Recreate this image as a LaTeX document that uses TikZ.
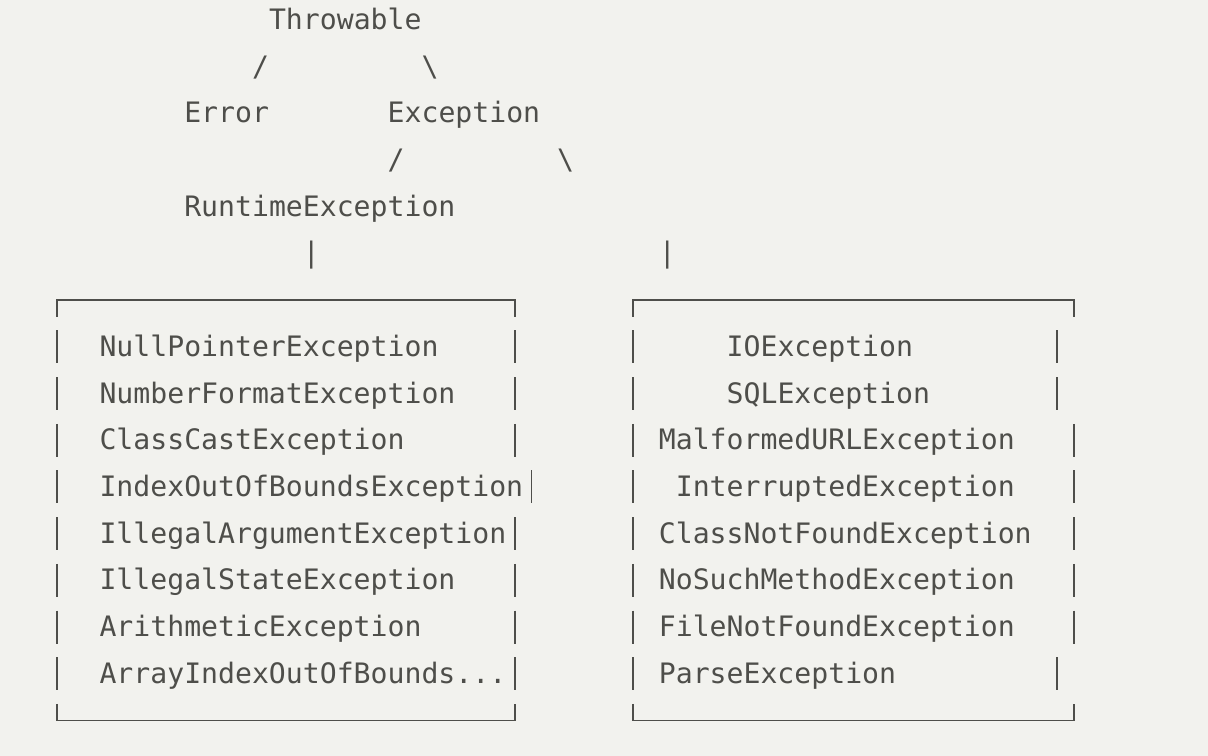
\documentclass[tikz,border=0pt]{standalone}
\usepackage{fontspec}
\newfontfamily\monofont{DejaVu Sans Mono}
\definecolor{paper}{RGB}{242,242,238}
\definecolor{ink}{RGB}{78,78,74}

\tikzset{
  word/.style={anchor=base west, inner sep=0pt, yshift=-9.5pt, text=ink,
    font=\monofont\fontsize{28.15}{34}\selectfont},
  rule/.style={draw=ink, line width=1.8pt},
}
% one short side stroke of a box, at column #1 and row #2
\newcommand{\sidebar}[2]{\draw[rule] (#1+0.5,#2-0.353) -- (#1+0.5,#2+0.353);}

\begin{document}
\begin{tikzpicture}[x=16.95pt, y=-46.7pt]
            \useasboundingbox[fill=paper] (-2.861,-0.428) rectangle (68.41,15.76);

            % the tree on top
            \node[word] (throwable) at (13,0) {Throwable};
            \node[word] (sl1) at (12,1) {/};
            \node[word] (bs1) at (22,1) {\textbackslash};
            \node[word] (error) at (8,2) {Error};
            \node[word] (exception) at (20,2) {Exception};
            \node[word] (sl2) at (20,3) {/};
            \node[word] (bs2) at (30,3) {\textbackslash};
            \node[word] (runtime) at (8,4) {RuntimeException};
            \node[word] (pipe1) at (15,5) {|};
            \node[word] (pipe2) at (36,5) {|};

            % left box
            \draw[rule] (0.5,6.353) -- (0.5,6) -- (27.5,6) -- (27.5,6.353);
            \draw[rule] (0.5,14.647) -- (0.5,15) -- (27.5,15) -- (27.5,14.647);
            \foreach \name [count=\i] in {NullPointerException, NumberFormatException,
                ClassCastException, IndexOutOfBoundsException, IllegalArgumentException,
                IllegalStateException, ArithmeticException, ArrayIndexOutOfBounds.{}.{}.}
                \node[word] (rt\i) at (3,6+\i) {\name};
            \foreach \r/\c in {7/27, 8/27, 9/27, 10/28, 11/27, 12/27, 13/27, 14/27} {
                \sidebar{0}{\r}
                \sidebar{\c}{\r}
            }

            % right box
            \draw[rule] (34.5,6.353) -- (34.5,6) -- (60.5,6) -- (60.5,6.353);
            \draw[rule] (34.5,14.647) -- (34.5,15) -- (60.5,15) -- (60.5,14.647);
            \foreach \c/\name [count=\i] in {40/IOException, 40/SQLException,
                36/MalformedURLException, 37/InterruptedException, 36/ClassNotFoundException,
                36/NoSuchMethodException, 36/FileNotFoundException, 36/ParseException}
                \node[word] (ck\i) at (\c,6+\i) {\name};
            \foreach \r/\c in {7/59, 8/59, 9/60, 10/60, 11/60, 12/60, 13/60, 14/59} {
                \sidebar{34}{\r}
                \sidebar{\c}{\r}
            }
        \end{tikzpicture}
\end{document}
